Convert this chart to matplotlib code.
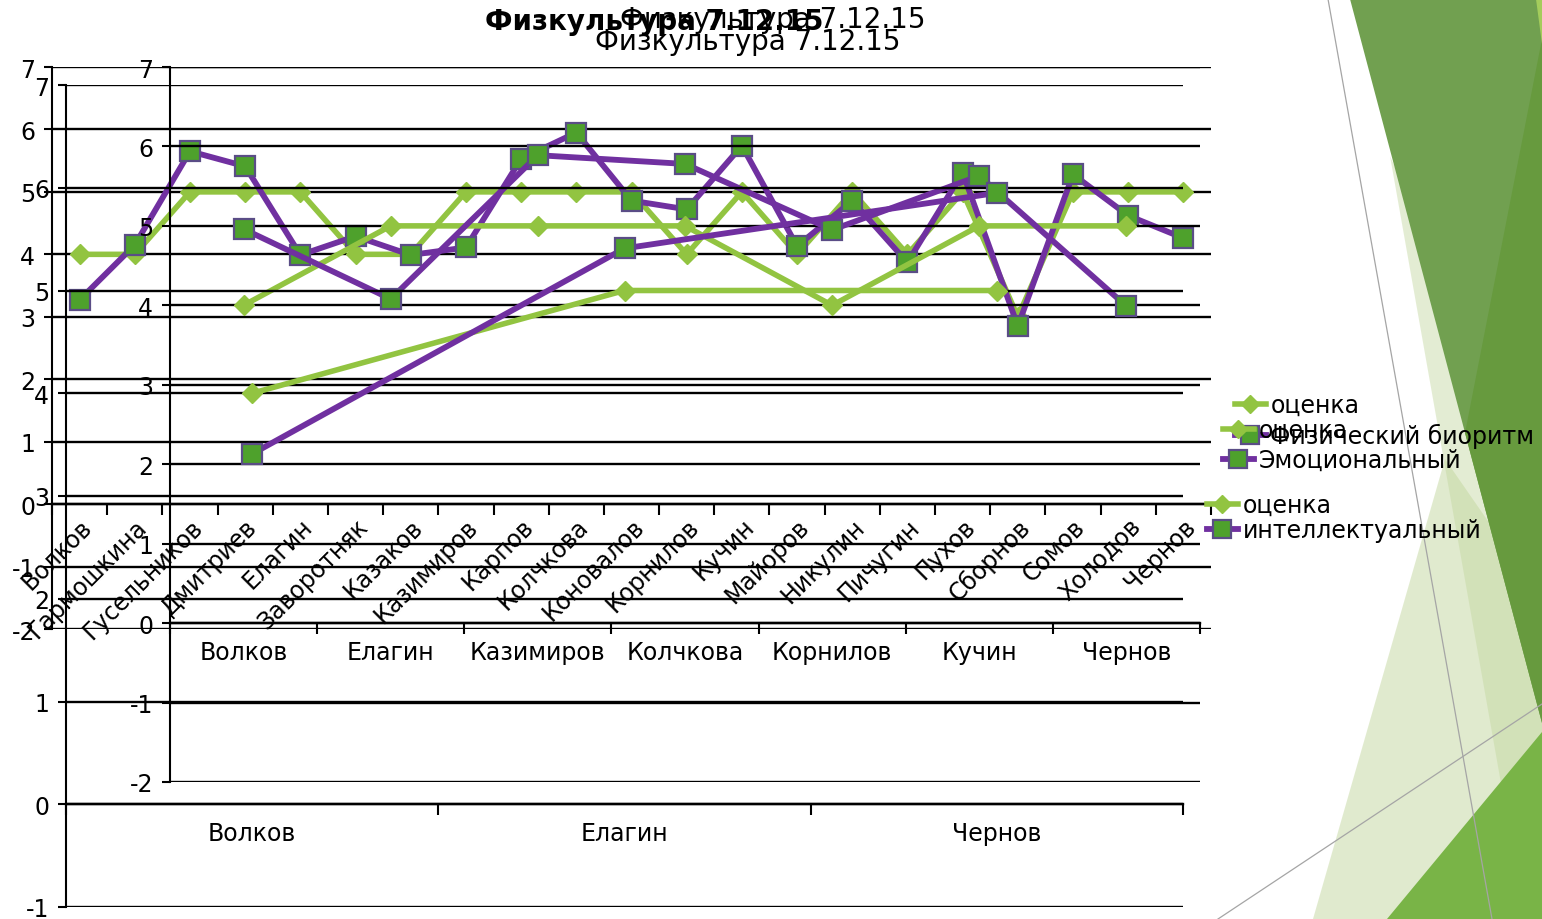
import matplotlib
matplotlib.use('Agg')
import matplotlib.pyplot as plt
from matplotlib.patches import Polygon
from matplotlib.lines import Line2D

W, H = 1542, 920
DPI = 100

TITLE = 'Физкультура 7.12.15'

# весь класс: оценка и физический биоритм
names_all = ['Волков', 'Гармошкина', 'Гусельников', 'Дмитриев', 'Елагин',
             'Заворотняк', 'Казаков', 'Казимиров', 'Карпов', 'Колчкова',
             'Коновалов', 'Корнилов', 'Кучин', 'Майоров', 'Никулин',
             'Пичугин', 'Пухов', 'Сборнов', 'Сомов', 'Холодов', 'Чернов']
grade_all = [4, 4, 5, 5, 5, 4, 4, 5, 5, 5, 5, 4, 5, 4, 5, 4, 5, 3, 5, 5, 5]
phys_all = [3.27, 4.15, 5.65, 5.41, 3.99, 4.29, 3.99, 4.11, 5.53, 5.95,
            4.86, 4.72, 5.74, 4.13, 4.86, 3.87, 5.31, 2.85, 5.28, 4.62, 4.26]

# выборка: эмоциональный биоритм
names_emo = ['Волков', 'Елагин', 'Казимиров', 'Колчкова', 'Корнилов',
             'Кучин', 'Чернов']
grade_emo = [4, 5, 5, 5, 4, 5, 5]
emo = [4.96, 4.08, 5.89, 5.78, 4.95, 5.63, 3.99]

# выборка: интеллектуальный биоритм
names_int = ['Волков', 'Елагин', 'Чернов']
grade_int = [4, 5, 5]
intel = [3.41, 5.41, 5.95]

GREEN = '#92c441'
PURPLE = '#7030a0'
SQ_FILL = '#4ea12c'
SQ_EDGE = '#5a4d86'
FONT = 'DejaVu Sans'

plt.rcParams['font.family'] = [FONT]
plt.rcParams['axes.unicode_minus'] = False


def px_axes(fig, left, top, right, bottom, z):
    """axes placed by pixel box (y counted from the top)"""
    ax = fig.add_axes([left / W, 1 - bottom / H,
                       (right - left) / W, (bottom - top) / H], zorder=z)
    ax.set_facecolor('none')
    return ax


def draw_chart(ax, names, grade, bio, bio_label, ylim, rot=0, fs=17):
    x = list(range(len(names)))
    ax.plot(x, grade, color=GREEN, lw=4, marker='D', ms=10.5,
            mfc=GREEN, mec=GREEN, label='оценка', zorder=3)
    ax.plot(x, bio, color=PURPLE, lw=4.2, marker='s', ms=15,
            mfc=SQ_FILL, mec=SQ_EDGE, mew=1.6, label=bio_label, zorder=4)
    ax.set_xlim(-0.5, len(names) - 0.5)
    ax.set_ylim(*ylim)
    ax.set_yticks(range(ylim[0], ylim[1] + 1))
    ax.yaxis.grid(True, color='black', lw=1.7)
    ax.set_axisbelow(True)
    for s in ('top', 'right'):
        ax.spines[s].set_visible(False)
    ax.spines['bottom'].set_position(('data', 0))
    ax.spines['bottom'].set_linewidth(1.7)
    ax.spines['left'].set_linewidth(1.5)
    ax.set_xticks(x)
    if rot:
        ax.set_xticklabels(names, rotation=rot, ha='right', va='top',
                           rotation_mode='anchor', fontsize=fs)
        ax.tick_params(axis='x', which='major', length=0, pad=7)
    else:
        ax.set_xticklabels(names, fontsize=fs)
        ax.tick_params(axis='x', which='major', length=0, pad=12)
    ax.set_xticks([i - 0.5 for i in range(len(names) + 1)], minor=True)
    ax.tick_params(axis='x', which='minor', length=8, width=1.5,
                   direction='out')
    ax.tick_params(axis='y', labelsize=fs, length=6, width=1.5, pad=6)


def add_legend(ax, fig, left, top, spacing):
    ax.legend(loc='upper left', bbox_to_anchor=(left / W, 1 - top / H),
              bbox_transform=fig.transFigure, frameon=False, fontsize=17,
              handlelength=1.3, handletextpad=0.2, labelspacing=spacing,
              borderpad=0, borderaxespad=0, markerscale=0.85)


fig = plt.figure(figsize=(W / DPI, H / DPI), dpi=DPI)
fig.patch.set_facecolor('white')

# декоративные треугольники справа (координаты в пикселях)
deco = [
    ([(1445, 460), (1313, 920), (1542, 920), (1542, 600)], '#c3d79f', 0.5),
    ([(1390, 157), (1525, 920), (1542, 920), (1542, 500)], '#c3d79f', 0.45),
    ([(1350, 0), (1542, 0), (1542, 724)], '#71a050', 1),
    ([(1542, 40), (1465, 434), (1542, 724)], '#679a3e', 1),
    ([(1536, 0), (1542, 0), (1542, 45)], '#a4cc5c', 1),
    ([(1542, 733), (1542, 920), (1387, 920)], '#79b447', 1),
]
for pts, col, alpha in deco:
    fig.patches.append(Polygon([(px / W, 1 - py / H) for px, py in pts],
                               closed=True, transform=fig.transFigure,
                               facecolor=col, edgecolor='none', alpha=alpha,
                               zorder=-5))
for (x0, y0), (x1, y1) in [((1328, 0), (1492, 920)),
                           ((1218, 920), (1542, 705))]:
    fig.lines.append(Line2D([x0 / W, x1 / W], [1 - y0 / H, 1 - y1 / H],
                            transform=fig.transFigure, color='#a5a5a5',
                            lw=0.9, zorder=-4))

ax_all = px_axes(fig, 52, 68, 1211, 630, 1)
draw_chart(ax_all, names_all, grade_all, phys_all, 'Физический биоритм',
           (-2, 7), rot=45)
add_legend(ax_all, fig, 1235, 394, 0.25)

ax_emo = px_axes(fig, 170, 68, 1200, 783, 2)
draw_chart(ax_emo, names_emo, grade_emo, emo, 'Эмоциональный', (-2, 7))
add_legend(ax_emo, fig, 1223, 419, 0.25)

ax_int = px_axes(fig, 66, 86, 1183, 908, 3)
draw_chart(ax_int, names_int, grade_int, intel, 'интеллектуальный', (-1, 7))
add_legend(ax_int, fig, 1207, 494, 0.05)

# три заголовка друг поверх друга
fig.text(485 / W, 1 - 22 / H, TITLE, fontsize=20, fontweight='bold',
         ha='left', va='center')
fig.text(925 / W, 1 - 20 / H, TITLE, fontsize=20, ha='right', va='center')
fig.text(748 / W, 1 - 42 / H, TITLE, fontsize=20, ha='center', va='center')

fig.savefig('out.png', dpi=DPI, facecolor='white')
